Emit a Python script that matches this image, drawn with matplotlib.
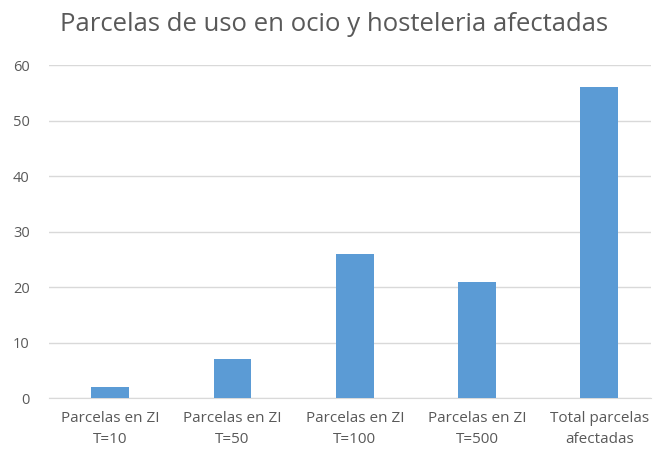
import matplotlib.pyplot as plt
import numpy as np

categorias = ["Parcelas en ZI\nT=10", "Parcelas en ZI\nT=50", "Parcelas en ZI\nT=100",
              "Parcelas en ZI\nT=500", "Total parcelas\nafectadas"]
parcelas = [2, 7, 26, 21, 56]
yticks = [0, 10, 20, 30, 40, 50, 60]

plt.rcParams['font.family'] = ['Open Sans', 'DejaVu Sans']

fig = plt.figure(figsize=(6.54, 4.55), dpi=100)
ax = fig.add_axes([0.075, 0.125, 0.92, 0.732])

x = np.arange(len(categorias))
ax.bar(x, parcelas, width=0.31, color="#5B9BD5", zorder=3)

ax.set_xlim(-0.5, len(categorias) - 0.58)
ax.set_ylim(0, 60)
ax.set_yticks(yticks)
ax.set_xticks(x)
ax.set_xticklabels(categorias, fontsize=11, color="#595959", linespacing=1.55)
ax.tick_params(axis="y", labelsize=10.5, labelcolor="#595959", length=0, pad=14)
ax.tick_params(axis="x", length=0, pad=9)
ax.grid(axis="y", color="#D9D9D9", linewidth=1, zorder=0)
for s in ["top", "right", "left"]:
    ax.spines[s].set_visible(False)
ax.spines["bottom"].set_color("#D9D9D9")

fig.text(0.511, 0.947, "Parcelas de uso en ocio y hosteleria afectadas",
         ha="center", va="center", fontsize=18.5, color="#595959")

fig.savefig("out.png", dpi=100)
